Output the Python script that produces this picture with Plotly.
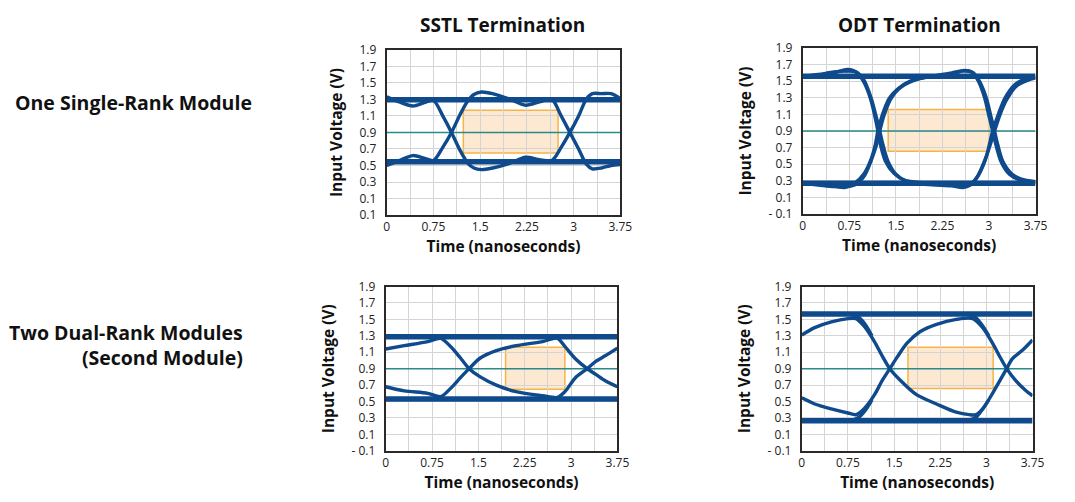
import plotly.graph_objects as go

# ---------------- data ----------------
time_ticks = [0, 0.75, 1.5, 2.25, 3, 3.75]
time_labels = ["0", "0.75", "1.5", "2.25", "3", "3.75"]
volt_ticks = [1.9, 1.7, 1.5, 1.3, 1.1, 0.9, 0.7, 0.5, 0.3, 0.1, -0.1]
volt_labels_sstl_single = ["1.9", "1.7", "1.5", "1.3", "1.1", "0.9", "0.7", "0.5", "0.3", "0.1", "0.1"]
volt_labels = ["1.9", "1.7", "1.5", "1.3", "1.1", "0.9", "0.7", "0.5", "0.3", "0.1", "- 0.1"]

column_titles = ["SSTL Termination", "ODT Termination"]
row_titles = ["One Single-Rank Module", "Two Dual-Rank Modules<br>(Second Module)"]
x_title = "Time (nanoseconds)"
y_title = "Input Voltage (V)"

reference_level = 0.9
band_t = [0, 3.75]

# Panel 1: SSTL, one single-rank module
sstl1_high = 1.295
sstl1_low = 0.545
sstl1_a_t = [0, 0.2, 0.42, 0.6, 0.75, 0.9, 1.04, 1.18, 1.3, 1.4, 1.52, 1.7, 1.95, 2.23, 2.45, 2.65, 2.8, 2.94, 3.08, 3.2, 3.3, 3.45, 3.6, 3.75]
sstl1_a_v = [1.33, 1.27, 1.22, 1.26, 1.29, 1.1, 0.9, 0.68, 0.53, 0.47, 0.45, 0.47, 0.52, 0.6, 0.57, 0.56, 0.72, 0.9, 1.1, 1.3, 1.37, 1.37, 1.37, 1.31]
sstl1_b_t = [0, 0.2, 0.42, 0.6, 0.75, 0.9, 1.04, 1.18, 1.3, 1.4, 1.52, 1.7, 1.95, 2.23, 2.45, 2.65, 2.8, 2.94, 3.08, 3.2, 3.3, 3.45, 3.6, 3.75]
sstl1_b_v = [0.5, 0.56, 0.62, 0.59, 0.56, 0.72, 0.9, 1.12, 1.28, 1.36, 1.39, 1.37, 1.31, 1.23, 1.27, 1.3, 1.1, 0.9, 0.7, 0.52, 0.46, 0.47, 0.5, 0.51]

# Panel 2: ODT, one single-rank module
odt1_high = 1.56
odt1_low = 0.27
odt1_a_t = [0, 0.25, 0.5, 0.72, 0.88, 0.99, 1.09, 1.17, 1.21, 1.25, 1.33, 1.47, 1.63, 1.89, 2.15, 2.4, 2.6, 2.72, 2.82, 2.96, 3.09, 3.18, 3.28, 3.44, 3.62, 3.75]
odt1_a_v = [1.55, 1.57, 1.6, 1.64, 1.6, 1.48, 1.29, 1.05, 0.9, 0.74, 0.54, 0.39, 0.31, 0.28, 0.26, 0.25, 0.23, 0.27, 0.36, 0.6, 0.9, 1.1, 1.27, 1.44, 1.51, 1.54]
odt1_b_t = [0, 0.25, 0.5, 0.67, 0.83, 0.99, 1.09, 1.17, 1.21, 1.28, 1.39, 1.52, 1.73, 1.95, 2.16, 2.4, 2.6, 2.75, 2.86, 2.96, 3.03, 3.09, 3.14, 3.22, 3.36, 3.52, 3.75]
odt1_b_v = [0.28, 0.26, 0.24, 0.22, 0.27, 0.39, 0.54, 0.74, 0.9, 1.09, 1.29, 1.4, 1.5, 1.54, 1.57, 1.6, 1.63, 1.6, 1.48, 1.29, 1.08, 0.9, 0.74, 0.54, 0.39, 0.32, 0.29]
odt1_c_t = [0, 0.25, 0.5, 0.7, 0.86, 0.98, 1.1, 1.19, 1.24, 1.29, 1.37, 1.5, 1.66, 1.92, 2.15, 2.4, 2.58, 2.7, 2.8, 2.94, 3.06, 3.16, 3.26, 3.42, 3.6, 3.75]
odt1_c_v = [1.56, 1.58, 1.61, 1.62, 1.61, 1.52, 1.3, 1.05, 0.9, 0.74, 0.54, 0.38, 0.3, 0.26, 0.25, 0.24, 0.22, 0.25, 0.33, 0.55, 0.9, 1.12, 1.3, 1.46, 1.53, 1.55]
odt1_d_t = [0, 0.25, 0.5, 0.7, 0.86, 1.0, 1.1, 1.19, 1.24, 1.31, 1.42, 1.55, 1.76, 1.98, 2.2, 2.42, 2.58, 2.72, 2.83, 2.93, 3.0, 3.06, 3.11, 3.19, 3.33, 3.5, 3.75]
odt1_d_v = [0.27, 0.25, 0.23, 0.23, 0.26, 0.37, 0.54, 0.74, 0.9, 1.09, 1.29, 1.41, 1.5, 1.55, 1.57, 1.59, 1.62, 1.61, 1.5, 1.3, 1.08, 0.9, 0.74, 0.54, 0.38, 0.31, 0.28]

# Panel 3: SSTL, two dual-rank modules
sstl2_high = 1.29
sstl2_low = 0.53
sstl2_a_t = [0, 0.3, 0.68, 0.89, 1.05, 1.21, 1.35, 1.53, 1.79, 2.11, 2.54, 2.78, 2.9, 3.07, 3.26, 3.4, 3.56, 3.75]
sstl2_a_v = [1.14, 1.18, 1.23, 1.27, 1.17, 1.03, 0.9, 0.8, 0.7, 0.62, 0.57, 0.55, 0.62, 0.79, 0.9, 0.99, 1.06, 1.15]
sstl2_b_t = [0, 0.3, 0.68, 0.89, 1.05, 1.21, 1.35, 1.53, 1.79, 2.11, 2.54, 2.78, 2.9, 3.07, 3.26, 3.4, 3.56, 3.75]
sstl2_b_v = [0.68, 0.63, 0.6, 0.56, 0.66, 0.79, 0.9, 1.03, 1.12, 1.18, 1.23, 1.27, 1.17, 1.02, 0.9, 0.83, 0.75, 0.68]

# Panel 4: ODT, two dual-rank modules
odt2_high = 1.565
odt2_low = 0.265
odt2_a_t = [0, 0.21, 0.48, 0.75, 0.88, 1.01, 1.18, 1.31, 1.43, 1.6, 1.87, 2.19, 2.51, 2.72, 2.83, 2.94, 3.1, 3.33, 3.42, 3.58, 3.75]
odt2_a_v = [1.31, 1.4, 1.47, 1.51, 1.51, 1.42, 1.23, 1.05, 0.9, 0.76, 0.58, 0.47, 0.37, 0.34, 0.34, 0.41, 0.6, 0.9, 1.02, 1.12, 1.25]
odt2_b_t = [0, 0.21, 0.48, 0.75, 0.88, 1.01, 1.18, 1.31, 1.43, 1.55, 1.71, 1.92, 2.19, 2.51, 2.78, 2.94, 3.1, 3.23, 3.33, 3.47, 3.63, 3.75]
odt2_b_v = [0.545, 0.47, 0.41, 0.36, 0.34, 0.41, 0.58, 0.76, 0.9, 1.04, 1.21, 1.35, 1.44, 1.5, 1.51, 1.4, 1.21, 1.03, 0.9, 0.76, 0.64, 0.57]
odt2_c_t = [0.62, 0.8, 0.93, 1.04, 1.14]
odt2_c_v = [1.565, 1.56, 1.52, 1.43, 1.3]
odt2_d_t = [0.62, 0.8, 0.93, 1.04, 1.14]
odt2_d_v = [0.265, 0.27, 0.31, 0.4, 0.52]
odt2_e_t = [2.52, 2.7, 2.83, 2.94, 3.04]
odt2_e_v = [1.565, 1.56, 1.52, 1.42, 1.3]
odt2_f_t = [2.52, 2.7, 2.83, 2.94, 3.04]
odt2_f_v = [0.265, 0.27, 0.31, 0.41, 0.52]

# Eye masks (time start/end, voltage low/high) per panel
mask_t_start = [1.23, 1.376, 1.94, 1.725]
mask_t_end = [2.75, 3.0, 2.9, 3.11]
mask_v_low = [0.65, 0.655, 0.65, 0.66]
mask_v_high = [1.17, 1.16, 1.16, 1.16]

# ---------------- styling ----------------
OFF = 8                      # default page body margin of the html page
W, H = 1075, 502
FONT = "Open Sans, Noto Sans, DejaVu Sans, sans-serif"
BLUE = "#0e4a8c"
TEAL = "#2a8a8a"
GRID = "#d4d4d4"
FRAME = "#2a2a2a"


def fx(px):
    return (px - OFF) / W


def fy(py):
    return 1 - (py - OFF) / H


# pixel boxes (left, right, top, bottom) of the four plot frames in the window
boxes = [(389, 626, 42, 213), (811, 1047, 40, 212), (388, 623, 287, 457), (810, 1044, 287, 457)]

panels = [
    dict(high=sstl1_high, low=sstl1_low, ylabels=volt_labels_sstl_single,
         curves=[(sstl1_a_t, sstl1_a_v), (sstl1_b_t, sstl1_b_v)]),
    dict(high=odt1_high, low=odt1_low, ylabels=volt_labels,
         curves=[(odt1_a_t, odt1_a_v), (odt1_b_t, odt1_b_v), (odt1_c_t, odt1_c_v), (odt1_d_t, odt1_d_v)]),
    dict(high=sstl2_high, low=sstl2_low, ylabels=volt_labels,
         curves=[(sstl2_a_t, sstl2_a_v), (sstl2_b_t, sstl2_b_v)]),
    dict(high=odt2_high, low=odt2_low, ylabels=volt_labels,
         curves=[(odt2_a_t, odt2_a_v), (odt2_b_t, odt2_b_v), (odt2_c_t, odt2_c_v), (odt2_d_t, odt2_d_v),
                 (odt2_e_t, odt2_e_v), (odt2_f_t, odt2_f_v)]),
]

fig = go.Figure()
layout = dict(
    width=W, height=H, autosize=False,
    margin=dict(l=0, r=0, t=0, b=0),
    paper_bgcolor="white", plot_bgcolor="white",
    showlegend=False,
    font=dict(family=FONT, color="#1a1a1a"),
)
shapes = []
for i, (p, box) in enumerate(zip(panels, boxes)):
    n = "" if i == 0 else str(i + 1)
    xa, ya = "x" + n, "y" + n
    l, r, t, b = box
    layout["xaxis" + n] = dict(
        domain=[fx(l), fx(r)], anchor=ya, range=[0, 3.75],
        tickmode="array", tickvals=time_ticks, ticktext=time_labels,
        showgrid=True, gridcolor=GRID, gridwidth=1,
        minor=dict(dtick=0.375, tick0=0, showgrid=True, gridcolor=GRID, gridwidth=1),
        showline=True, mirror=True, linecolor=FRAME, linewidth=2,
        zeroline=False, ticks="", tickfont=dict(size=12, color="#222"),
        title=dict(text="<b>" + x_title + "</b>", font=dict(size=15.5, color="#111"), standoff=7),
        fixedrange=True,
    )
    layout["yaxis" + n] = dict(
        domain=[fy(b), fy(t)], anchor=xa, range=[-0.1, 1.9],
        tickmode="array", tickvals=volt_ticks, ticktext=p["ylabels"],
        showgrid=True, gridcolor=GRID, gridwidth=1,
        showline=True, mirror=True, linecolor=FRAME, linewidth=2,
        zeroline=False, ticks="", ticklabelstandoff=6, tickfont=dict(size=12, color="#222"),
        title=dict(text="<b>" + y_title + "</b>", font=dict(size=15.5, color="#111"), standoff=13),
        fixedrange=True,
    )
    # eye mask
    shapes.append(dict(type="rect", xref=xa, yref=ya, layer="below",
                       x0=mask_t_start[i], x1=mask_t_end[i], y0=mask_v_low[i], y1=mask_v_high[i],
                       fillcolor="#fde8d2", line=dict(color="#f6b347", width=1.5)))
    # reference level
    fig.add_trace(go.Scatter(x=band_t, y=[reference_level, reference_level], xaxis=xa, yaxis=ya,
                             mode="lines", line=dict(color=TEAL, width=1.5), hoverinfo="skip"))
    # steady high / low bands
    for lvl in (p["high"], p["low"]):
        fig.add_trace(go.Scatter(x=band_t, y=[lvl, lvl], xaxis=xa, yaxis=ya, mode="lines",
                                 line=dict(color=BLUE, width=5.5), hoverinfo="skip"))
    # transitions
    for tt, vv in p["curves"]:
        fig.add_trace(go.Scatter(x=tt, y=vv, xaxis=xa, yaxis=ya, mode="lines",
                                 line=dict(color=BLUE, width=3.4, shape="spline", smoothing=0.8),
                                 hoverinfo="skip"))

layout["shapes"] = shapes
ann = []
col_x = [506, 929]
for txt, cx in zip(column_titles, col_x):
    ann.append(dict(text="<b>" + txt + "</b>", x=fx(cx), y=fy(16), xref="paper", yref="paper",
                    xanchor="center", yanchor="middle", showarrow=False, font=dict(size=19, color="#111")))
ann.append(dict(text="<b>" + row_titles[0] + "</b>", x=fx(10), y=fy(96), xref="paper", yref="paper",
                xanchor="left", yanchor="middle", showarrow=False, font=dict(size=19.5, color="#111")))
ann.append(dict(text="<b>" + row_titles[1] + "</b>", x=fx(245), y=fy(348), xref="paper", yref="paper",
                xanchor="right", yanchor="middle", align="right", showarrow=False, font=dict(size=19.5, color="#111")))
layout["annotations"] = ann
fig.update_layout(**layout)
fig.write_html("out.html")
